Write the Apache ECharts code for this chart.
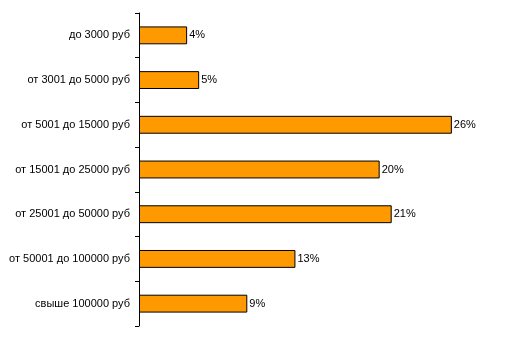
<!DOCTYPE html>
<html><head><meta charset="utf-8">
<script src="https://cdn.jsdelivr.net/npm/echarts@6/dist/echarts.min.js"></script>
<style>html,body{margin:0;padding:0;background:#fff}#c{width:512px;height:340px}</style>
</head><body><div id="c"></div>
<script>
var categories = ["до 3000 руб","от 3001 до 5000 руб","от 5001 до 15000 руб","от 15001 до 25000 руб","от 25001 до 50000 руб","от 50001 до 100000 руб","свыше 100000 руб"];
var values = [4,5,26,20,21,13,9];
var chart = echarts.init(document.getElementById('c'), null, {renderer:'canvas'});
chart.setOption({
  animation:false,
  backgroundColor:'#fff',
  grid:{left:139,right:12,top:13,bottom:14,containLabel:false},
  xAxis:{type:'value',min:0,max:30,show:false},
  yAxis:{type:'category',data:categories,inverse:true,
    axisLine:{show:true,lineStyle:{color:'#000',width:1}},
    axisTick:{show:true,length:4,lineStyle:{color:'#000'}},
    axisLabel:{color:'#000',fontFamily:'Liberation Sans, Arial',fontSize:11,margin:9},
    splitLine:{show:false}},
  series:[{type:'bar',data:values,barWidth:'40%',
    itemStyle:{color:'#FF9900',borderColor:'#000',borderWidth:1},
    label:{show:true,position:'right',distance:2,formatter:'{c}%',color:'#000',fontFamily:'Liberation Sans, Arial',fontSize:11}}]
});
</script></body></html>
